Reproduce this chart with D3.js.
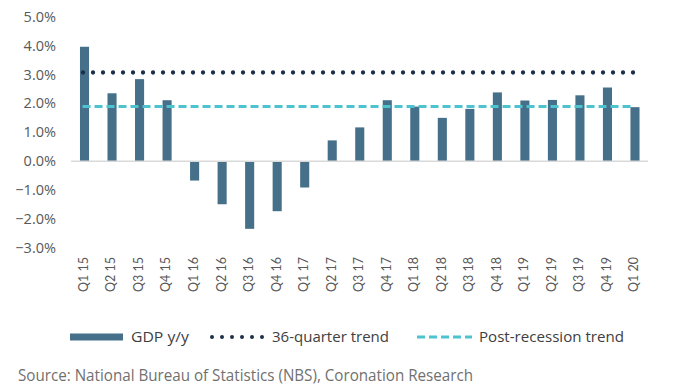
<!DOCTYPE html>
<html><head><meta charset="utf-8">
<script src="https://cdn.jsdelivr.net/npm/d3@7"></script>
<style>body{margin:0;background:#fff}</style>
</head><body>
<svg id="c" width="675" height="390"></svg>
<script>
const categories = ["Q1 15","Q2 15","Q3 15","Q4 15","Q1 16","Q2 16","Q3 16","Q4 16","Q1 17","Q2 17","Q3 17","Q4 17","Q1 18","Q2 18","Q3 18","Q4 18","Q1 19","Q2 19","Q3 19","Q4 19","Q1 20"];
const gdp = [3.96,2.35,2.84,2.11,-0.67,-1.49,-2.34,-1.73,-0.91,0.72,1.17,2.11,1.89,1.50,1.81,2.38,2.10,2.12,2.28,2.55,1.87];
const trend36 = 3.07;
const postRecession = 1.89;
const yTicks = [5,4,3,2,1,0,-1,-2,-3];
const legendLabels = ["GDP y/y","36-quarter trend","Post-recession trend"];
const source = "Source: National Bureau of Statistics (NBS), Coronation Research";

const svg = d3.select("#c");
const x = d3.scaleBand().domain(categories).range([70.75,648.75]).paddingInner(0.67).paddingOuter(0.335);
const y = d3.scaleLinear().domain([-3,5]).range([247.9,16.7]);
const barColor = "#46708a", dotColor = "#1b2f4b", dashColor = "#4cc3cf";

// y labels
svg.append("g").selectAll("text").data(yTicks).join("text")
  .attr("x",56).attr("y",d=>y(d)).attr("dy","0.35em").attr("text-anchor","end")
  .attr("font-family","Open Sans").attr("font-size",14.5).attr("fill","#595959")
  .text(d=>d3.format(".1f")(d)+"%");

// bars
svg.append("g").selectAll("rect").data(gdp).join("rect")
  .attr("x",(d,i)=>x(categories[i])).attr("width",x.bandwidth())
  .attr("y",d=>y(Math.max(0,d))).attr("height",d=>Math.abs(y(d)-y(0)))
  .attr("fill",barColor);

// zero axis
svg.append("line").attr("x1",71).attr("x2",648).attr("y1",y(0)).attr("y2",y(0))
  .attr("stroke","#d9d9d9").attr("stroke-width",1.5);

const cx0 = x(categories[0])+x.bandwidth()/2, cx1 = x(categories[categories.length-1])+x.bandwidth()/2;
// trend lines
svg.append("line").attr("x1",cx0-1.5).attr("x2",cx1).attr("y1",y(trend36)).attr("y2",y(trend36))
  .attr("stroke",dotColor).attr("stroke-width",4.3).attr("stroke-linecap","round").attr("stroke-dasharray","0 10");
svg.append("line").attr("x1",cx0-2).attr("x2",cx1-2).attr("y1",y(postRecession)).attr("y2",y(postRecession))
  .attr("stroke",dashColor).attr("stroke-width",3).attr("stroke-dasharray","8 4");

// x labels
svg.append("g").selectAll("text").data(categories).join("text")
  .attr("transform",d=>`translate(${x(d)+x.bandwidth()/2-1},257) rotate(-90)`)
  .attr("dy","0.35em").attr("text-anchor","end")
  .attr("font-family","Lato").attr("font-size",12.5).attr("fill","#595959")
  .text(d=>d);

// legend
const lg = svg.append("g");
lg.append("rect").attr("x",70).attr("y",333.5).attr("width",53).attr("height",7).attr("fill",barColor);
lg.append("line").attr("x1",212).attr("x2",263).attr("y1",337).attr("y2",337)
  .attr("stroke",dotColor).attr("stroke-width",4).attr("stroke-linecap","round").attr("stroke-dasharray","0 10");
lg.append("line").attr("x1",417).attr("x2",472).attr("y1",337).attr("y2",337)
  .attr("stroke",dashColor).attr("stroke-width",3).attr("stroke-dasharray","8 4");
const lx = [131,272,479], lw = [58,117,145];
lg.selectAll("text").data(legendLabels).join("text")
  .attr("x",(d,i)=>lx[i]).attr("y",342).attr("textLength",(d,i)=>lw[i]).attr("lengthAdjust","spacingAndGlyphs")
  .attr("font-family","Open Sans").attr("font-size",15).attr("fill","#404040").text(d=>d);

svg.append("text").attr("x",18).attr("y",381).attr("textLength",455).attr("lengthAdjust","spacingAndGlyphs")
  .attr("font-family","Open Sans").attr("font-size",16).attr("fill","#707070").text(source);
</script>
</body></html>
